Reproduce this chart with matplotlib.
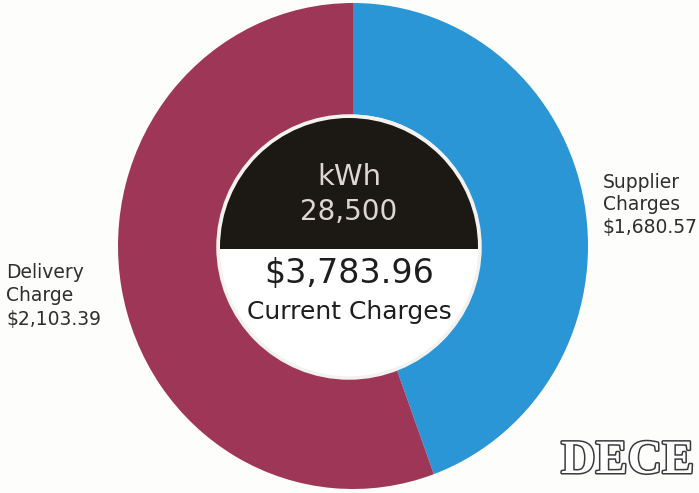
import matplotlib
matplotlib.use("Agg")
import matplotlib.pyplot as plt
from matplotlib.patches import Circle, Rectangle
import matplotlib.patheffects as pe

# Bill breakdown
categories = ["Supplier Charges", "Delivery Charge"]
amounts = [1680.57, 2103.39]
colors = ["#2a96d6", "#9e3658"]
total = 3783.96
kwh = 28500
month = "DECE"

W, H = 699, 493
fig = plt.figure(figsize=(W / 100, H / 100), dpi=100)
fig.patch.set_facecolor("#fdfdfc")

# Ring: its own axes spanning the ring's bounding box (pixels)
left, right, top, bottom = 118, 588, 3, 489
pax = fig.add_axes([left / W, 1 - bottom / H, (right - left) / W, (bottom - top) / H])
pax.pie(amounts, colors=colors, startangle=90, counterclock=False,
        radius=1, center=(0, 0), frame=True,
        wedgeprops=dict(width=0.46, linewidth=0))
pax.set_xlim(-1, 1)
pax.set_ylim(-1, 1)
pax.set_aspect("auto")
pax.axis("off")

# Overlay axes in pixel units for the centre disc and labels
ax = fig.add_axes([0, 0, 1, 1])
ax.set_xlim(0, W)
ax.set_ylim(0, H)
ax.axis("off")
ax.patch.set_alpha(0)

def py(y):
    """Pixel row measured from the top -> data y."""
    return H - y

cx, cy = 349, py(247)
r_in = 131

hole = Circle((cx, cy), r_in, facecolor="white", edgecolor="#f4f2ef",
              linewidth=2.5, zorder=3)
ax.add_patch(hole)
cap = Rectangle((cx - r_in - 5, py(249)), 2 * r_in + 10, r_in + 5,
                facecolor="#1c1814", edgecolor="none", zorder=4)
ax.add_patch(cap)
cap.set_clip_path(Circle((cx, cy), r_in - 2, transform=ax.transData))

font = "DejaVu Sans"
ax.text(cx, py(177), "kWh", ha="center", va="center", fontsize=21,
        color="#dcd8d0", family=font, zorder=5)
ax.text(cx, py(212), f"{kwh:,}", ha="center", va="center", fontsize=20,
        color="#dcd8d0", family=font, zorder=5)
ax.text(cx, py(273), f"${total:,.2f}", ha="center", va="center", fontsize=24,
        color="#1e1e1e", family=font, zorder=5)
ax.text(cx, py(312), "Current Charges", ha="center", va="center", fontsize=18,
        color="#1e1e1e", family=font, zorder=5)

# Side labels, one line at a time
sup_lines = categories[0].split() + [f"${amounts[0]:,.2f}"]
for i, line in enumerate(sup_lines):
    ax.text(603, py(183 + 22 * i), line, ha="left", va="center", fontsize=13.5,
            color="#2e2e2e", family=font)
del_lines = categories[1].split() + [f"${amounts[1]:,.2f}"]
for i, line in enumerate(del_lines):
    ax.text(6, py(272 + 23.5 * i), line, ha="left", va="center", fontsize=13.5,
            color="#2e2e2e", family=font)

# Month stamp in outlined lettering
ax.text(561, py(473), month, ha="left", va="baseline", fontsize=34.5,
        family="Liberation Serif", weight="bold", color="white",
        path_effects=[pe.withStroke(linewidth=2.2, foreground="#3a3a3a")],
        zorder=6)

fig.savefig("out.png", dpi=100, facecolor=fig.get_facecolor())
